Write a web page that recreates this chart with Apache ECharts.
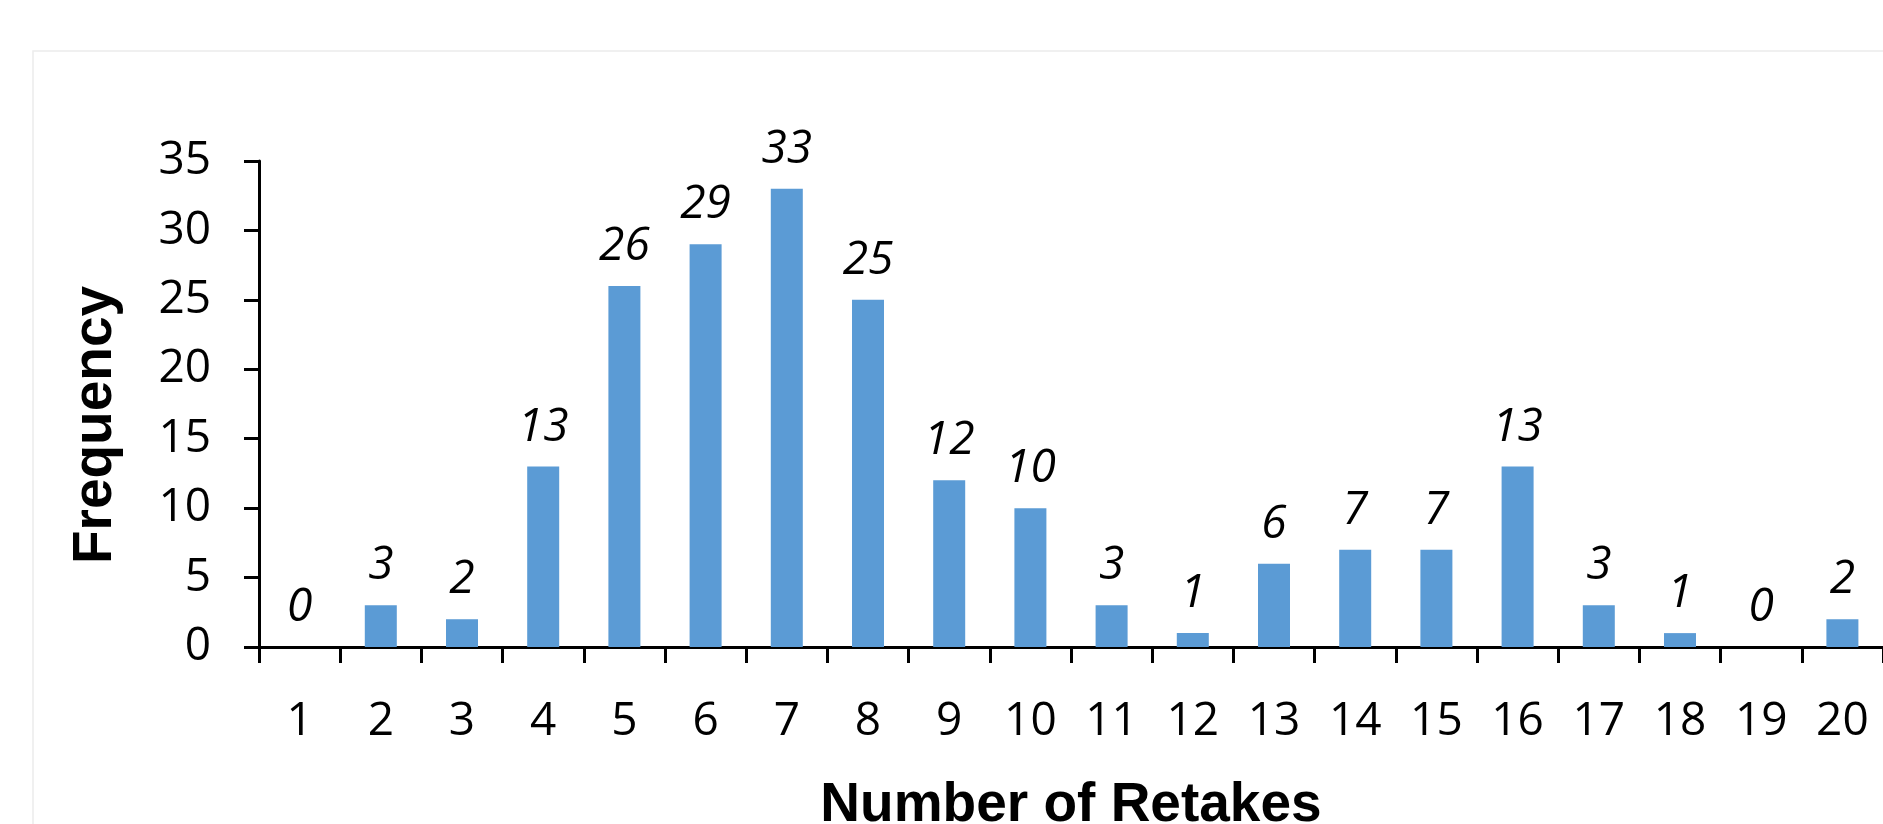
<!DOCTYPE html>
<html>
<head>
<meta charset="utf-8">
<script src="https://cdn.jsdelivr.net/npm/echarts@6/dist/echarts.min.js"></script>
<style>
html,body{margin:0;padding:0;background:#fff;}
#chart{width:1883px;height:824px;}
</style>
</head>
<body>
<div id="chart"></div>
<script>
const categories = ['1','2','3','4','5','6','7','8','9','10','11','12','13','14','15','16','17','18','19','20'];
const frequency = [0,3,2,13,26,29,33,25,12,10,3,1,6,7,7,13,3,1,0,2];
const yTicks = { min: 0, max: 35, interval: 5 };
const xTitle = 'Number of Retakes';
const yTitle = 'Frequency';

const chart = echarts.init(document.getElementById('chart'), null, { renderer: 'canvas' });
const tickFont = '"Open Sans", "Noto Sans", sans-serif';
chart.setOption({
  backgroundColor: '#ffffff',
  animation: false,
  graphic: [{
    type: 'rect',
    shape: { x: 33, y: 51, width: 1900, height: 900 },
    style: { fill: 'none', stroke: '#ececec', lineWidth: 1.5 },
    z: -1
  }],
  grid: { left: 259, right: 0, top: 161, bottom: 177, containLabel: false, outerBoundsMode: 'none' },
  xAxis: {
    type: 'category',
    data: categories,
    boundaryGap: true,
    axisLine: { show: true, lineStyle: { color: '#000', width: 3 } },
    axisTick: { show: true, length: 16, lineStyle: { color: '#000', width: 3 } },
    axisLabel: { color: '#000', fontSize: 46, fontFamily: tickFont, margin: 52, interval: 0 },
    name: xTitle,
    nameLocation: 'middle',
    nameGap: 131,
    nameTextStyle: { color: '#000', fontSize: 55, fontWeight: 'bold', fontFamily: '"Liberation Sans", Arial, sans-serif' }
  },
  yAxis: {
    type: 'value',
    min: yTicks.min, max: yTicks.max, interval: yTicks.interval,
    splitLine: { show: false },
    axisLine: { show: true, lineStyle: { color: '#000', width: 3 } },
    axisTick: { show: true, length: 15, lineStyle: { color: '#000', width: 3 } },
    axisLabel: { color: '#000', fontSize: 46, fontFamily: tickFont, margin: 48 },
    name: yTitle,
    nameLocation: 'middle',
    nameGap: 136,
    nameRotate: 90,
    nameTextStyle: { color: '#000', fontSize: 55, fontWeight: 'bold', fontFamily: '"Liberation Sans", Arial, sans-serif', padding: [0, 42, 0, 0] }
  },
  series: [{
    type: 'bar',
    data: frequency,
    barWidth: 32,
    itemStyle: { color: '#5B9BD5' },
    label: {
      show: true,
      position: 'top',
      distance: 16,
      color: '#000',
      fontSize: 46,
      fontStyle: 'italic',
      fontFamily: tickFont
    }
  }]
});
</script>
</body>
</html>
